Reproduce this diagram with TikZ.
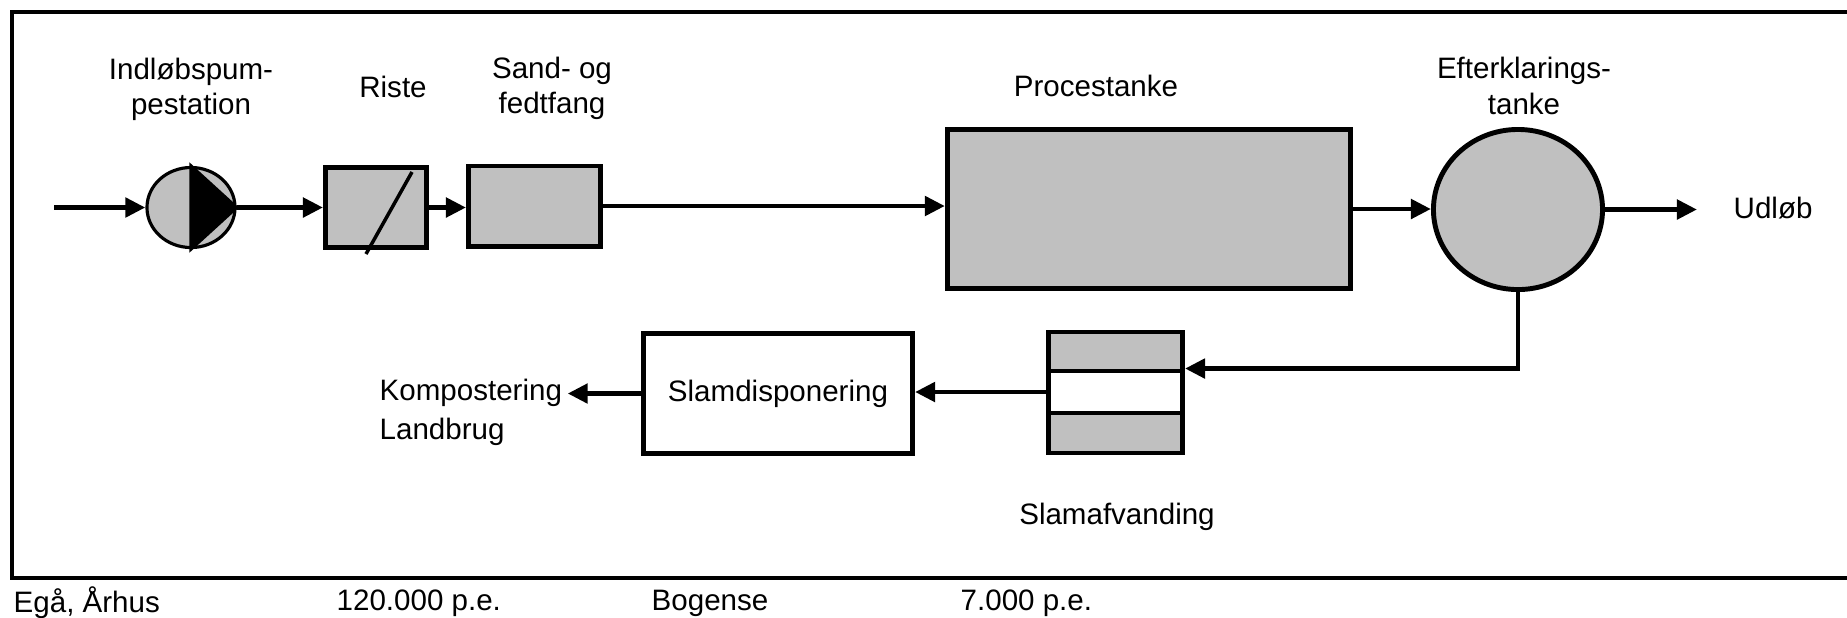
\documentclass[tikz,border=0pt]{standalone}
\usepackage{fontspec}
\setmainfont{Liberation Sans}
\usetikzlibrary{arrows.meta,shapes.geometric,calc}
\definecolor{boxgray}{RGB}{192,192,192}
\begin{document}
\begin{tikzpicture}[x=0.01cm,y=-0.01cm,
  every node/.style={font=\fontsize{8.4}{10}\selectfont},
  lbl/.style={inner sep=0pt, align=center},
  unit/.style={draw, line width=1.4pt, fill=boxgray, inner sep=0pt},
  flow/.style={line width=1.4pt, -{Triangle[length=0.2cm,width=0.19cm]}},
  frameline/.style={line width=1.4pt}
]
\useasboundingbox (0,0) rectangle (1847,617);
% frame
\draw[frameline] (1847,12) -- (12,12) -- (12,578) -- (1847,578);

% units
\node[unit, ellipse, line width=0.9pt, minimum width=0.88cm, minimum height=0.80cm] (pump) at (191,207.5) {};
\filldraw[line width=0.9pt] (pump.north) -- (pump.east) -- (pump.south) -- cycle;
\node[unit, minimum width=1.01cm, minimum height=0.80cm] (riste) at (376,207.5) {};
\draw[line width=1pt] ($(riste.center)+(36,-35.5)$) -- ($(riste.center)+(-10,46.5)$);
\node[unit, minimum width=1.32cm, minimum height=0.80cm] (sand) at (534.5,206) {};
\node[unit, minimum width=4.03cm, minimum height=1.59cm] (proces) at (1149,209) {};
\node[unit, ellipse, minimum width=1.69cm, minimum height=1.60cm] (efter) at (1518,209.5) {};
\node[unit, minimum width=1.34cm, minimum height=0.39cm] (afvtop) at (1115.5,351.5) {};
\node[unit, fill=white, minimum width=1.34cm, minimum height=0.42cm] (afvmid) at (1115.5,392) {};
\node[unit, minimum width=1.34cm, minimum height=0.40cm] (afvbot) at (1115.5,433) {};
\node[draw, line width=1.4pt, inner sep=0pt, minimum width=2.69cm, minimum height=1.20cm] (disp) at (778,393.5) {Slamdisponering};

% labels
\node[lbl] (l1) at (191,89.5) {Indløbspum-\\pestation};
\node[lbl] (l2) at (393,87) {Riste};
\node[lbl] (l3) at (552,88) {Sand- og\\fedtfang};
\node[lbl] (l4) at (1096,86) {Procestanke};
\node[lbl] (l5) at (1524,86) {Efterklarings-\\tanke};
\node[lbl, anchor=west] (udlob) at (1733,208) {Udløb};
\node[lbl, anchor=west] (komp) at (379,393) {Kompostering};
\node[lbl, anchor=west] (landbrug) at (379,432) {Landbrug};
\node[lbl] (l6) at (1117,517) {Slamafvanding};
\node[lbl, anchor=west] (b1) at (13,603) {Egå, Århus};
\node[lbl, anchor=west] (b2) at (336,603) {120.000 p.e.};
\node[lbl, anchor=west] (b3) at (651,603) {Bogense};
\node[lbl, anchor=west] (b4) at (960,603) {7.000 p.e.};

% connectors
\coordinate (inlet) at (54,207.5);
\coordinate (outend) at (1697,209.5);
\draw[flow] (inlet) -- (pump.west);
\draw[flow] (pump.east) -- (riste.west);
\draw[flow] (riste.east) -- (riste.east -| sand.west);
\draw[flow] (sand.east) -- (sand.east -| proces.west);
\draw[flow] (proces.east) -- (proces.east -| efter.west);
\draw[flow] (efter.east) -- (outend);
\draw[flow] (efter.south) |- (afvmid.north east);
\draw[flow] (afvmid.west) -- (afvmid.west -| disp.east);
\draw[flow, shorten >=0.05cm] (disp.west) -- (disp.west -| komp.east);
\end{tikzpicture}
\end{document}
